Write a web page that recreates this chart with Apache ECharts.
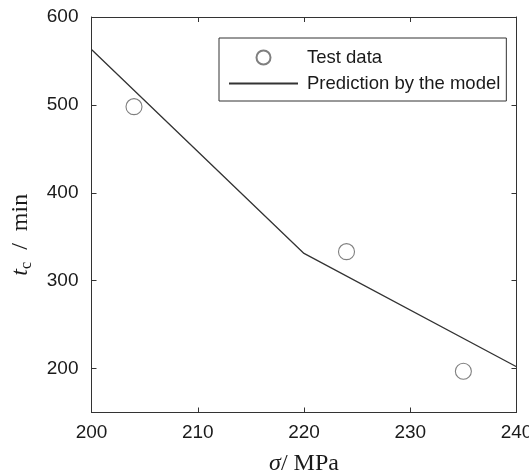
<!DOCTYPE html>
<html><head><meta charset="utf-8">
<script src="https://cdn.jsdelivr.net/npm/echarts@6/dist/echarts.min.js"></script>
<style>html,body{margin:0;padding:0;background:#fff}#c{width:529px;height:471px}</style>
</head><body><div id="c"></div>
<script>
const testSigma = [204, 224, 235];
const testTime = [498, 333, 197];
const modelSigma = [200, 220, 240];
const modelTime = [563, 331, 202];
const xTicks = [200, 210, 220, 230, 240];
const yTicks = [200, 300, 400, 500, 600];
const seriesNames = ['Test data', 'Prediction by the model'];

const chart = echarts.init(document.getElementById('c'), null, {renderer: 'canvas'});
const axisCol = '#333';
const labelFont = {fontSize: 19, fontFamily: 'Liberation Sans', color: '#1a1a1a'};
const nameRich = {
  i: {fontFamily: 'Liberation Serif', fontStyle: 'italic', fontSize: 24, color: '#1a1a1a', lineHeight: 28},
  s: {fontFamily: 'Liberation Serif', fontSize: 16, color: '#1a1a1a', verticalAlign: 'bottom', lineHeight: 24},
  n: {fontFamily: 'Liberation Serif', fontSize: 24, color: '#1a1a1a', lineHeight: 28}
};
function xAx(pos, showLabel) {
  return {
    type: 'value', position: pos, min: 200, max: 240, interval: 10,
    axisLine: {show: true, onZero: false, lineStyle: {color: axisCol, width: 1}},
    axisTick: {show: true, inside: true, length: 5, customValues: xTicks, lineStyle: {color: axisCol}},
    axisLabel: Object.assign({show: showLabel, margin: 11, customValues: xTicks}, labelFont),
    splitLine: {show: false},
    name: showLabel ? '{i|σ}{n|/ MPa}' : '',
    nameLocation: 'middle', nameGap: 37,
    nameTextStyle: {rich: nameRich}
  };
}
function yAx(pos, showLabel) {
  return {
    type: 'value', position: pos, min: 150, max: 600,
    axisLine: {show: true, onZero: false, lineStyle: {color: axisCol, width: 1}},
    axisTick: {show: true, inside: true, length: 5, customValues: yTicks, lineStyle: {color: axisCol}},
    axisLabel: Object.assign({show: showLabel, margin: 13, customValues: yTicks}, labelFont),
    splitLine: {show: false},
    name: showLabel ? '{i|t}{s|c}{n|  /  min}' : '',
    nameLocation: 'middle', nameGap: 57, nameRotate: 90,
    nameTextStyle: {rich: nameRich, padding: [0, 40, 0, 0]}
  };
}
chart.setOption({
  animation: false,
  backgroundColor: '#fff',
  grid: {left: 91.5, right: 12.5, top: 17, bottom: 58.5, containLabel: false, outerBoundsMode: 'none'},
  xAxis: [xAx('bottom', true), xAx('top', false)],
  yAxis: [yAx('left', true), yAx('right', false)],
  legend: {
    orient: 'vertical', left: 219, top: 38,
    itemWidth: 69, itemHeight: 14, itemGap: 7,
    padding: [10, 6, 8, 9],
    borderColor: '#333', borderWidth: 1,
    symbolKeepAspect: true,
    textStyle: {fontSize: 18.5, fontFamily: 'Liberation Sans', color: '#1a1a1a', lineHeight: 18, padding: [0, 0, 0, 4]},
    data: [
      {name: seriesNames[0], icon: 'circle'},
      {name: seriesNames[1], itemStyle: {color: 'rgba(0,0,0,0)', borderWidth: 0, opacity: 0}}
    ]
  },
  series: [
    {
      name: seriesNames[0], type: 'scatter', symbol: 'circle', symbolSize: 16,
      itemStyle: {color: 'rgba(0,0,0,0)', borderColor: '#5f5f5f', borderWidth: 1.1},
      data: testSigma.map((x, i) => [x, testTime[i]])
    },
    {
      name: seriesNames[1], type: 'line', symbol: 'none', showSymbol: false,
      itemStyle: {color: '#333'},
      lineStyle: {color: '#333', width: 1.3},
      data: modelSigma.map((x, i) => [x, modelTime[i]])
    }
  ]
});
</script></body></html>
